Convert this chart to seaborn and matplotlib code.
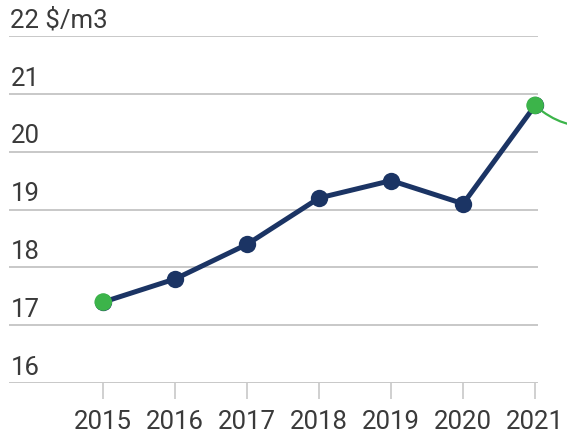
import pandas as pd
import matplotlib.pyplot as plt
import seaborn as sns

years = [2015, 2016, 2017, 2018, 2019, 2020, 2021]
price = [17.4, 17.8, 18.4, 19.2, 19.5, 19.1, 20.8]
y_ticks = [16, 17, 18, 19, 20, 21, 22]
y_labels = ["16", "17", "18", "19", "20", "21", "22 $/m3"]

df = pd.DataFrame({"year": years, "price": price})
ends = df.iloc[[0, -1]]

navy = "#1b3464"
green = "#3cb44a"
grid_c = "#c8c8c8"
text_c = "#3a3a3a"

sns.set_style("white")
plt.rcParams["font.family"] = ["Roboto", "DejaVu Sans"]

fig = plt.figure(figsize=(5.67, 4.35), dpi=100)
ax = fig.add_axes([9 / 567, 1 - 384 / 435, 529 / 567, 347 / 435])

for v in y_ticks:
    ax.axhline(v, color=grid_c, lw=1.4, zorder=0)

sns.lineplot(data=df, x="year", y="price", color=navy, lw=3.6,
             marker="o", markersize=12.5, markeredgewidth=0, ax=ax, zorder=3,
             clip_on=False)
sns.scatterplot(data=ends, x="year", y="price", color=green, s=160,
                edgecolor="none", ax=ax, zorder=4, clip_on=False)

# connector leaving the last point toward the right edge
ax.annotate("", xy=(years[-1], price[-1]), xytext=(50, -14),
            textcoords="offset points", annotation_clip=False,
            arrowprops=dict(arrowstyle="-", color=green, lw=1.6,
                            shrinkA=0, shrinkB=7,
                            connectionstyle="arc3,rad=-0.25"))

ax.set_xlim(2013.69, 2021.04)
ax.set_ylim(16, 22)
ax.set_xticks(years)
ax.set_xticklabels([str(y) for y in years], fontsize=18.5, color=text_c)
ax.set_yticks([])
ax.tick_params(axis="x", length=11.5, width=1.2, color=grid_c, pad=7.5,
               bottom=True)
ax.set_xlabel("")
ax.set_ylabel("")
for s in ax.spines.values():
    s.set_visible(False)

for v, lab in zip(y_ticks, y_labels):
    ax.annotate(lab, xy=(0, v), xycoords=ax.get_yaxis_transform(),
                xytext=(1, 3), textcoords="offset points",
                ha="left", va="bottom", fontsize=18.5, color=text_c)

fig.savefig("out.png", dpi=100)
